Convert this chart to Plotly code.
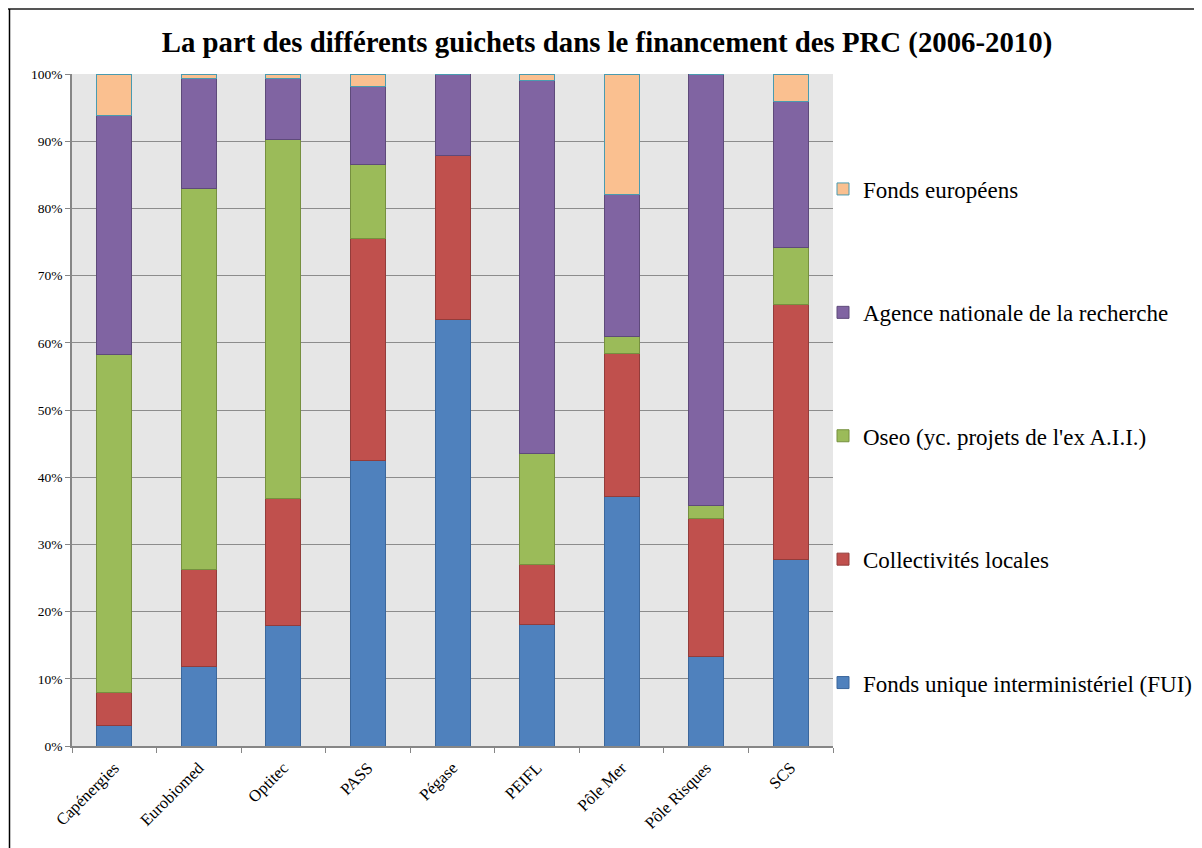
import plotly.graph_objects as go

categories = ["Capénergies", "Eurobiomed", "Optitec", "PASS", "Pégase", "PEIFL", "Pôle Mer", "Pôle Risques", "SCS"]
fui = [3.0, 11.8, 17.9, 42.5, 63.5, 18.1, 37.1, 13.3, 27.7]
collectivites = [5.0, 14.5, 19.0, 33.0, 24.4, 8.9, 21.3, 20.5, 38.0]
oseo = [50.2, 56.7, 53.4, 11.0, 0.0, 16.5, 2.6, 2.0, 8.5]
anr = [35.6, 16.3, 9.1, 11.6, 12.1, 55.6, 21.0, 64.2, 21.7]
fonds_eu = [6.2, 0.7, 0.6, 1.9, 0.0, 0.9, 18.0, 0.0, 4.1]
y_ticks = [0, 10, 20, 30, 40, 50, 60, 70, 80, 90, 100]

series = [
    ("Fonds unique interministériel (FUI)", fui, "#4f81bd", "#3b679c"),
    ("Collectivités locales", collectivites, "#c0504d", "#933c3a"),
    ("Oseo (yc. projets de l'ex A.I.I.)", oseo, "#9bbb59", "#76903f"),
    ("Agence nationale de la recherche", anr, "#8064a2", "#5e4a7a"),
    ("Fonds européens", fonds_eu, "#fac090", "#4a9bb0"),
]

fig = go.Figure()
n = len(series)
for i, (name, vals, col, lc) in enumerate(series):
    fig.add_trace(go.Bar(
        x=categories, y=vals, name=name, legendgroup=str(i), legendrank=n - i,
        marker=dict(color=col, line=dict(color=lc, width=1)),
    ))

# the page adds an 8px body margin, so work in shifted pixel coordinates
OFF = 8
W, H = 1202 - OFF, 848 - OFF
L, R, T, B = 72 - OFF, 833 - OFF, 74 - OFF, 746 - OFF

def px_x(p):
    return (p - OFF - L) / (R - L)

def px_y(p):
    return (B - (p - OFF)) / (B - T)

shapes = []
for k, g in enumerate(["#f2f2f2", "#e6e6e6", "#d9d9d9", "#c8c8c8", "#b0b0b0"]):
    yy = 4 + k
    shapes.append(dict(type="line", xref="paper", yref="paper",
                       x0=px_x(8), x1=px_x(1220), y0=px_y(yy), y1=px_y(yy),
                       line=dict(color=g, width=1)))
shapes.append(dict(type="line", xref="paper", yref="paper",
                   x0=px_x(8), x1=px_x(1220), y0=px_y(9), y1=px_y(9),
                   line=dict(color="#555555", width=2)))
shapes.append(dict(type="line", xref="paper", yref="paper",
                   x0=px_x(9.5), x1=px_x(9.5), y0=px_y(9), y1=px_y(870),
                   line=dict(color="#000000", width=1.5)))

fig.update_layout(
    width=W, height=H,
    barmode="stack", bargap=0.586,
    paper_bgcolor="white", plot_bgcolor="#e6e6e6",
    margin=dict(l=L, r=W - R, t=T, b=H - B, autoexpand=False),
    font=dict(family="Liberation Serif, Times New Roman, serif", color="#000000"),
    title=dict(text="<b>La part des différents guichets dans le financement des PRC (2006-2010)</b>",
               x=(607 - OFF) / W, xanchor="center",
               y=1 - (42 - OFF) / H, yanchor="middle", font=dict(size=28.8)),
    showlegend=True,
    legend=dict(x=px_x(823), xanchor="left", y=px_y(436), yanchor="middle",
                traceorder="grouped", tracegroupgap=90.5,
                font=dict(size=23), bgcolor="rgba(0,0,0,0)"),
    shapes=shapes,
)
fig.update_xaxes(
    showline=True, linecolor="#868686", linewidth=1.5,
    ticks="outside", tickson="boundaries", ticklen=5, tickcolor="#868686",
    tickangle=-45, tickfont=dict(size=16.5), showgrid=False, ticklabelstandoff=4,
)
fig.update_yaxes(
    range=[0, 100], tickvals=y_ticks, ticktext=[f"{v}%" for v in y_ticks],
    showline=True, linecolor="#868686", linewidth=1.5,
    ticks="outside", ticklen=5, tickcolor="#868686",
    showgrid=True, gridcolor="#8c8c8c", gridwidth=1,
    tickfont=dict(size=13.5), zeroline=False,
)

fig.write_html("out.html")
